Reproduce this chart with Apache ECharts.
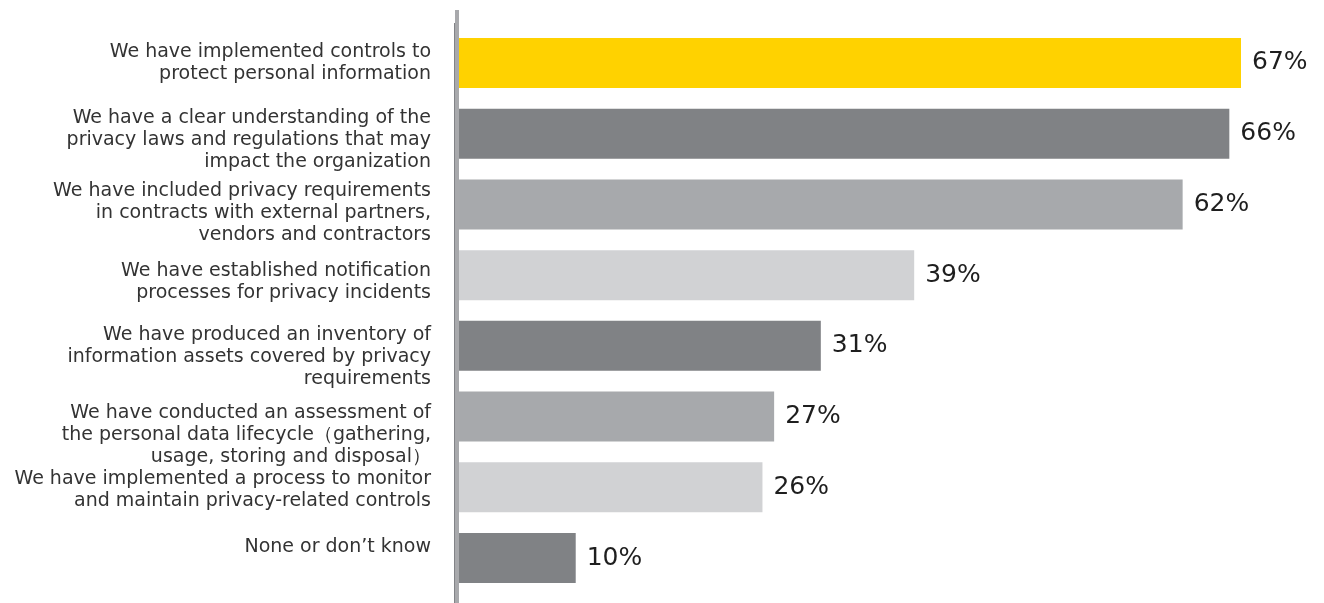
<!DOCTYPE html>
<html>
<head>
<meta charset="utf-8">
<script src="https://cdn.jsdelivr.net/npm/echarts@6/dist/echarts.min.js"></script>
<style>
  html, body { margin: 0; padding: 0; background: #fff; }
  #chart { width: 1324px; height: 603px; }
</style>
</head>
<body>
<div id="chart"></div>
<script>
// Survey responses, listed top to bottom
const categories = [
  'We have implemented controls to\nprotect personal information',
  'We have a clear understanding of the\nprivacy laws and regulations that may\nimpact the organization',
  'We have included privacy requirements\nin contracts with external partners,\nvendors and contractors',
  'We have established notification\nprocesses for privacy incidents',
  'We have produced an inventory of\ninformation assets covered by privacy\nrequirements',
  'We have conducted an assessment of\nthe personal data lifecycle（gathering,\nusage, storing and disposal）',
  'We have implemented a process to monitor\nand maintain privacy-related controls',
  'None or don’t know'
];
const values = [67, 66, 62, 39, 31, 27, 26, 10];
const barColors = ['#FFD200', '#808285', '#A7A9AC', '#D1D2D4', '#808285', '#A7A9AC', '#D1D2D4', '#808285'];
// vertical nudge of each category label (px, positive = down)
const labelNudge = [0, 6, 9, 7, 11, 18, 3, -11];

const labelText = { fontFamily: 'DejaVu Sans', fontSize: 19, lineHeight: 22, color: '#333333', align: 'right' };
const rich = { t: labelText };
labelNudge.forEach((n, i) => {
  rich['sp' + i] = { fontSize: 1, lineHeight: Math.max(1, Math.abs(2 * n)), align: 'right' };
});

const chart = echarts.init(document.getElementById('chart'), null, { renderer: 'canvas' });

chart.setOption({
  animation: false,
  backgroundColor: '#ffffff',
  grid: { left: 459, right: 83, top: 27.6, bottom: 9.6, containLabel: false },
  xAxis: {
    type: 'value',
    min: 0,
    max: 67,
    show: false
  },
  yAxis: {
    type: 'category',
    inverse: true,
    data: categories,
    axisLine: { show: false },
    axisTick: { show: false },
    axisLabel: {
      margin: 28,
      align: 'right',
      rich: rich,
      formatter: (value, index) => {
        const lines = value.split('\n').map(l => '{t|' + l + '}');
        const n = labelNudge[index];
        // a thin spacer line above or below shifts the centred block
        if (n > 0) lines.unshift('{sp' + index + '| }');
        if (n < 0) lines.push('{sp' + index + '| }');
        return lines.join('\n');
      }
    }
  },
  // vertical baseline to the left of the bars: thin dark edge plus lighter band
  graphic: [{
    type: 'rect',
    shape: { x: 454, y: 23, width: 1, height: 580 },
    style: { fill: '#828387' },
    z: 10
  }, {
    type: 'rect',
    shape: { x: 455, y: 10, width: 4, height: 593 },
    style: { fill: '#a8a9ac' },
    z: 10
  }],
  series: [{
    type: 'bar',
    barWidth: 50,
    data: values.map((v, i) => ({ value: v, itemStyle: { color: barColors[i] } })),
    label: {
      show: true,
      position: 'right',
      distance: 11,
      formatter: '{c}%',
      fontFamily: 'DejaVu Sans',
      fontSize: 25,
      color: '#1e1e1e'
    }
  }]
});
</script>
</body>
</html>
